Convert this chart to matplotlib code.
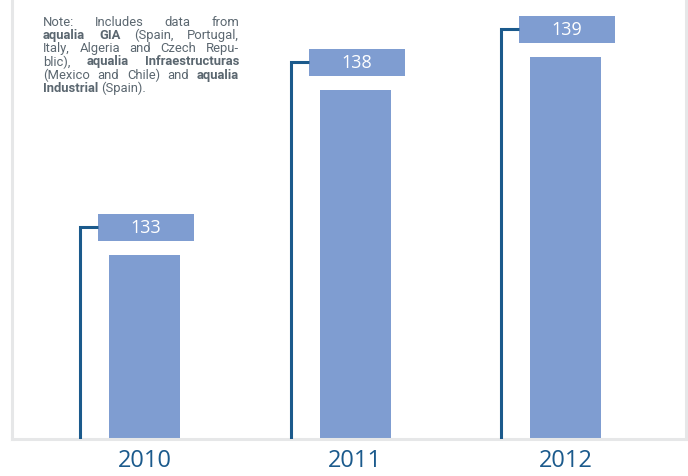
import matplotlib
matplotlib.use("Agg")
import matplotlib.pyplot as plt
from matplotlib.patches import Rectangle
from matplotlib.lines import Line2D

# ---- data ----
years = ["2010", "2011", "2012"]
values = [133, 138, 139]
note_lines = [
    [("Note: Includes data from", False)],
    [("aqualia GIA", True), ("(Spain, Portugal,", False)],
    [("Italy, Algeria and Czech Repu-", False)],
    [("blic),", False), ("aqualia Infraestructuras", True)],
    [("(Mexico and Chile) and", False), ("aqualia", True)],
    [("Industrial", True), ("(Spain).", False)],
]

W, H = 688, 477
DPI = 100
BAR_COLOR = "#7f9dd1"
DARK = "#1b5a8c"
FRAME = "#e6e7e8"
NOTE_COLOR = "#5b6770"
FONT = "Open Sans"
NOTE_FONT = ["Roboto", "DejaVu Sans"]
NOTE_BOLD_FONT = ["Liberation Sans Narrow", "Roboto", "DejaVu Sans"]

fig = plt.figure(figsize=(W / DPI, H / DPI), dpi=DPI)
fig.patch.set_facecolor("white")

# axes placement in pixels
ax_left, ax_right, ax_bottom_px, ax_top_px = 12, 686, 440, 0
ax = fig.add_axes([ax_left / W, 1 - ax_bottom_px / H,
                   (ax_right - ax_left) / W, (ax_bottom_px - ax_top_px) / H])
ax.set_facecolor("none")

px_per_x = 210.5
px_per_y = 33.0
base = 127.41
x0 = -(144.5 - ax_left) / px_per_x
ax.set_xlim(x0, x0 + (ax_right - ax_left) / px_per_x)
ax.set_ylim(base, base + (ax_bottom_px - ax_top_px) / px_per_y)

ax.spines["top"].set_visible(False)
for s in ["left", "right", "bottom"]:
    ax.spines[s].set_color(FRAME)
    ax.spines[s].set_linewidth(2.2)
ax.set_xticks([])
ax.set_yticks([])

xs = list(range(len(years)))
bar_w = 71 / px_per_x
ax.bar(xs, [v - base for v in values], bottom=base, width=bar_w,
       color=BAR_COLOR, zorder=2)

box_w = 96 / px_per_x
box_h = 27 / px_per_y
box_gap = 14 / px_per_y
box_dx = 1.5 / px_per_x
line_dx = -64.5 / px_per_x

for x, v in zip(xs, values):
    bb = v + box_gap
    ax.add_patch(Rectangle((x + box_dx - box_w / 2, bb), box_w, box_h,
                           facecolor=BAR_COLOR, edgecolor="none", zorder=2))
    ax.text(x + box_dx, bb + box_h / 2, str(v), ha="center", va="center",
            color="white", fontsize=13, family=FONT, zorder=3)
    ymid = bb + box_h / 2
    lx = x + line_dx
    ax.add_line(Line2D([lx, lx, x + box_dx - box_w / 2], [base, ymid, ymid],
                       color=DARK, lw=2.2, solid_joinstyle="miter",
                       solid_capstyle="butt", zorder=3))
    ax.text(x, base - 21 / px_per_y, str(years[x]), ha="center", va="center",
            color=DARK, fontsize=17, family=FONT, clip_on=False)

# ---- justified note ----
renderer = fig.canvas.get_renderer()
note_x0, note_x1 = 43, 239
line_y = [22, 35.3, 48.6, 61.9, 75.2, 88.5]
fs = 9.4


def tokens(line):
    out = []
    for seg, bold in line:
        for w in seg.split(" "):
            out.append((w, bold))
    return out


def fam(bold):
    return NOTE_BOLD_FONT if bold else NOTE_FONT


def measure(word, bold):
    t = fig.text(0, 0, word, fontsize=fs, family=fam(bold),
                 weight="bold" if bold else "normal")
    w = t.get_window_extent(renderer).width
    t.remove()
    return w


space = measure("a a", False) - 2 * measure("a", False)
for i, line in enumerate(note_lines):
    toks = tokens(line)
    widths = [measure(w, b) for w, b in toks]
    total = sum(widths)
    if i < len(note_lines) - 1 and len(toks) > 1:
        gap = max((note_x1 - note_x0 - total) / (len(toks) - 1), 2.5)
    else:
        gap = space
    x = note_x0
    for (w, b), wd in zip(toks, widths):
        fig.text(x / W, 1 - line_y[i] / H, w, fontsize=fs, family=fam(b),
                 weight="bold" if b else "normal", color=NOTE_COLOR,
                 va="center", ha="left")
        x += wd + gap

fig.savefig("out.png", dpi=DPI)
